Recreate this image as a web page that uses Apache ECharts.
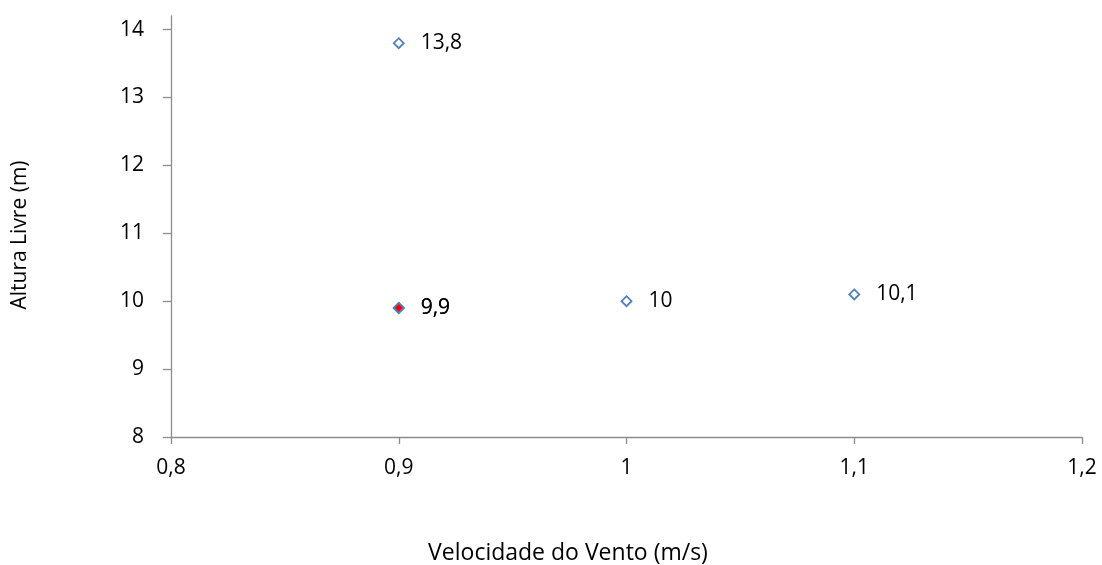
<!DOCTYPE html>
<html>
<head>
<meta charset="utf-8">
<script src="https://cdn.jsdelivr.net/npm/echarts@6/dist/echarts.min.js"></script>
<style>
html,body{margin:0;padding:0;background:#fff;}
#c{width:1102px;height:565px;}
</style>
</head>
<body>
<div id="c"></div>
<script>
// Data
const velocidade = [0.9, 1.0, 1.1, 0.9];
const altura = [13.8, 10.0, 10.1, 9.9];
const destaqueX = [0.9];
const destaqueY = [9.9];
const xTicks = [0.8, 0.9, 1.0, 1.1, 1.2];
const yTicks = [8, 9, 10, 11, 12, 13, 14];
const xTitle = 'Velocidade do Vento (m/s)';
const yTitle = 'Altura Livre (m)';

const fmt = v => String(Math.round(v * 10) / 10).replace('.', ',');
const FONT = 'Open Sans';
const FS = 21;

const chart = echarts.init(document.getElementById('c'));
const axisLineStyle = { color: '#8c8c8c', width: 1.3 };
const labelStyle = {
  show: true, position: 'right', distance: 16, color: '#000', opacity: 1,
  textBorderWidth: 0, textBorderColor: 'transparent',
  fontFamily: FONT, fontSize: FS, formatter: p => fmt(p.value[1])
};

chart.setOption({
  animation: false,
  backgroundColor: '#ffffff',
  textStyle: { fontFamily: FONT },
  grid: { left: 171, right: 20, top: 16, bottom: 128, containLabel: false },
  xAxis: {
    type: 'value', min: 0.8, max: 1.2, interval: 0.1,
    axisLine: { show: true, onZero: false, lineStyle: axisLineStyle },
    axisTick: { show: true, inside: false, length: 7, lineStyle: axisLineStyle },
    splitLine: { show: false },
    axisLabel: { margin: 21, color: '#000', fontFamily: FONT, fontSize: FS, formatter: v => fmt(v) }
  },
  yAxis: {
    type: 'value', min: 8, max: 14.2,
    axisLine: { show: true, onZero: false, lineStyle: axisLineStyle },
    axisTick: { show: true, inside: false, length: 8, lineStyle: axisLineStyle, customValues: yTicks },
    splitLine: { show: false },
    axisLabel: { margin: 27, color: '#000', fontFamily: FONT, fontSize: FS, customValues: yTicks, formatter: v => fmt(v) }
  },
  graphic: [
    { type: 'text', x: 568, y: 553, style: { text: xTitle, fill: '#000', fontFamily: FONT, fontSize: 23, textAlign: 'center', textVerticalAlign: 'middle' } },
    { type: 'text', rotation: Math.PI / 2, x: 20, y: 235, style: { text: yTitle, fill: '#000', fontFamily: FONT, fontSize: 21, textAlign: 'center', textVerticalAlign: 'middle' } }
  ],
  series: [
    {
      type: 'scatter',
      data: velocidade.map((x, i) => [x, altura[i]]),
      symbol: 'diamond', symbolSize: 10,
      itemStyle: { color: '#ffffff', borderColor: '#4f81bd', borderWidth: 1.8, opacity: 1 },
      label: labelStyle
    },
    {
      type: 'scatter',
      data: destaqueX.map((x, i) => [x, destaqueY[i]]),
      symbol: 'diamond', symbolSize: 10,
      itemStyle: { color: '#ff0000', borderColor: '#4f81bd', borderWidth: 1.8, opacity: 1 },
      label: labelStyle
    }
  ]
});
</script>
</body>
</html>
